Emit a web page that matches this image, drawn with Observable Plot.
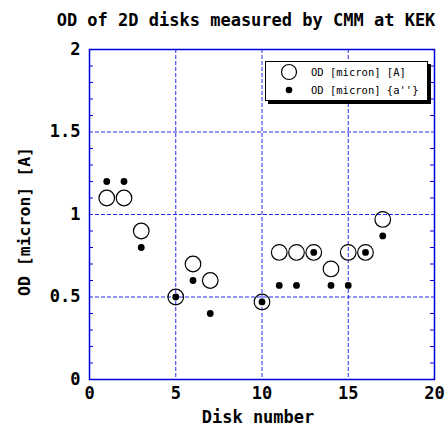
<!DOCTYPE html>
<html>
<head>
<meta charset="utf-8">
<script src="https://cdn.jsdelivr.net/npm/d3@7"></script>
<script src="https://cdn.jsdelivr.net/npm/@observablehq/plot@0.6"></script>
<style>
  html, body { margin: 0; padding: 0; background: #fff; }
  #wrap { position: relative; width: 446px; height: 434px; overflow: hidden; }
  #legend {
    position: absolute; left: 265px; top: 61px; width: 161px; height: 38px;
    border: 1px solid #000; background: #fff; box-shadow: 3px 3px 0 #000;
    font-family: "DejaVu Sans Mono", monospace; font-size: 10.5px; color: #000;
  }
  #legend .row { position: absolute; left: 0; height: 16px; display: flex; align-items: center; }
  #legend svg { position: absolute; left: 14px; }
  #legend span { position: absolute; left: 45px; white-space: pre; color: #000; }
</style>
</head>
<body>
<div id="wrap"></div>
<script>
// ---- data ----
const title = "OD of 2D disks measured by CMM at KEK";
const xLabel = "Disk number";
const yLabel = "OD [micron] [A]";
const seriesNames = ["OD [micron] [A]", "OD [micron] {a''}"];
const disks = [1, 2, 3, 5, 6, 7, 10, 11, 12, 13, 14, 15, 16, 17];
const odA   = [1.10, 1.10, 0.90, 0.50, 0.70, 0.60, 0.47, 0.77, 0.77, 0.77, 0.67, 0.77, 0.77, 0.97];
const odA2  = [1.20, 1.20, 0.80, 0.50, 0.60, 0.40, 0.47, 0.57, 0.57, 0.77, 0.57, 0.57, 0.77, 0.87];
const xTicks = [0, 5, 10, 15, 20];
const yTicks = [0, 0.5, 1, 1.5, 2];
const xGrid = [5, 10, 15];
const yGrid = [0.5, 1, 1.5];
const yMinor = [0.1,0.2,0.3,0.4,0.6,0.7,0.8,0.9,1.1,1.2,1.3,1.4,1.6,1.7,1.8,1.9];

const rowsA = disks.map((d, i) => ({disk: d, od: odA[i]}));
const rowsB = disks.map((d, i) => ({disk: d, od: odA2[i]}));

const blue = "#0000dd";
const gridBlue = "#2a2aee";
const font = "'DejaVu Sans Mono', monospace";
const W = 446, H = 434, mL = 89, mR = 12, mT = 49, mB = 55;
const fw = W - mL - mR;
const fmt = d => String(d);

const chart = Plot.plot({
  width: W, height: H,
  marginLeft: mL, marginRight: mR, marginTop: mT, marginBottom: mB,
  style: {fontFamily: font, background: "#fff", overflow: "visible"},
  x: {domain: [0, 20]},
  y: {domain: [0, 2]},
  marks: [
    Plot.gridX(xGrid, {stroke: gridBlue, strokeOpacity: 1, strokeDasharray: "4,2", strokeWidth: 1}),
    Plot.gridY(yGrid, {stroke: gridBlue, strokeOpacity: 1, strokeDasharray: "4,2", strokeWidth: 1}),
    Plot.tickY(yMinor, {y: d => d, stroke: blue, insetRight: fw - 4}),
    Plot.tickY(yMinor, {y: d => d, stroke: blue, insetLeft: fw - 4}),
    Plot.axisX(xTicks, {tickSize: 0, tickPadding: 7, tickFormat: fmt, fontSize: 17, fontWeight: "bold", fill: "#000", label: null}),
    Plot.axisY(yTicks, {tickSize: 0, tickPadding: 9, tickFormat: fmt, fontSize: 17, fontWeight: "bold", fill: "#000", label: null}),
    Plot.frame({stroke: blue, strokeWidth: 1.5}),
    Plot.dot(rowsA, {x: "disk", y: "od", r: 7.8, stroke: "#000", strokeWidth: 1.2, fill: "none"}),
    Plot.dot(rowsB, {x: "disk", y: "od", r: 3.4, fill: "#000", stroke: "none"}),
    Plot.text([title], {frameAnchor: "top", textAnchor: "middle", dx: -16, dy: -29, lineAnchor: "middle", fontSize: 17, fontWeight: "bold", fill: "#000"}),
    Plot.text([xLabel], {frameAnchor: "bottom", textAnchor: "middle", dx: -4, dy: 38, lineAnchor: "middle", fontSize: 17, fontWeight: "bold", fill: "#000"}),
    Plot.text([yLabel], {frameAnchor: "left", textAnchor: "middle", dx: -65, dy: 7, rotate: -90, lineAnchor: "middle", fontSize: 16.5, fontWeight: "bold", fill: "#000"})
  ]
});

const wrap = document.getElementById("wrap");
wrap.appendChild(chart);

// legend (HTML overlay)
const legend = document.createElement("div");
legend.id = "legend";
const sym = [
  `<svg width="18" height="18"><circle cx="9" cy="9" r="7.5" fill="none" stroke="#000" stroke-width="1.2"/></svg>`,
  `<svg width="18" height="18"><circle cx="9" cy="9" r="3.3" fill="#000"/></svg>`
];
seriesNames.forEach((name, i) => {
  const row = document.createElement("div");
  row.className = "row";
  row.style.top = (2 + i * 18) + "px";
  row.style.width = "100%";
  row.innerHTML = sym[i].replace("<svg", `<svg style="top:-1px"`) + `<span>${name}</span>`;
  legend.appendChild(row);
});
wrap.appendChild(legend);
</script>
</body>
</html>
